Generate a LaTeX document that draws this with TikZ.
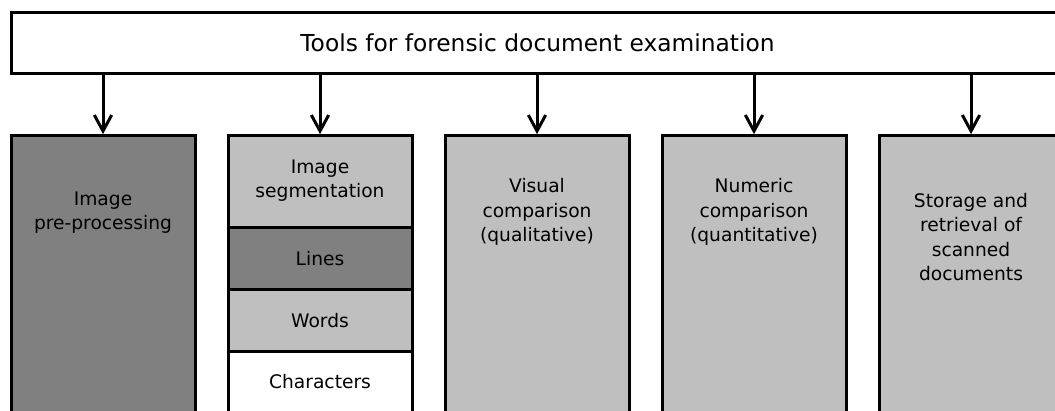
\documentclass[tikz,border=0pt]{standalone}
\usepackage{fontspec}
\setmainfont{DejaVu Sans}
\usetikzlibrary{arrows.meta}
\definecolor{darkfill}{HTML}{808080}
\definecolor{lightfill}{HTML}{BFBFBF}
\begin{document}
\begin{tikzpicture}[x=0.75pt,y=-0.75pt,
  boxline/.style={draw=black,line width=2.25pt,rectangle,inner sep=0pt,outer sep=0pt},
  colbox/.style={boxline,anchor=north,minimum width=138pt},
  lbl/.style={align=center,inner sep=0pt,font=\fontsize{14}{18.4}\selectfont},
  arr/.style={-{Straight Barb[length=12pt,width=13pt,line width=2.25pt]},line width=2.25pt,shorten >=1pt}]
\useasboundingbox (0,0) rectangle (1055,410);
\clip (0,0) rectangle (1055,410);
\node[boxline,fill=white,minimum width=789.75pt,minimum height=45.75pt] (top) at (537.5,43) {};
\node[lbl,font=\fontsize{17.5}{21}\selectfont] (toptxt) at (537.5,43) {Tools for forensic document examination};
% columns
\node[colbox,fill=darkfill,minimum height=225pt] (b1) at (103,135.5) {};
\node[colbox,fill=lightfill,minimum height=69pt] (seg) at (320,135.5) {};
\node[colbox,fill=darkfill,minimum height=46.5pt] (lines) at (320,227.5) {};
\node[colbox,fill=lightfill,minimum height=46.5pt] (words) at (320,289.5) {};
\node[colbox,fill=white,minimum height=120pt] (chars) at (320,351.5) {};
\node[colbox,fill=lightfill,minimum height=225pt] (b3) at (537,135.5) {};
\node[colbox,fill=lightfill,minimum height=225pt] (b4) at (754,135.5) {};
\node[colbox,fill=lightfill,minimum height=225pt] (b5) at (971,135.5) {};
% labels
\node[lbl] (t1) at (103,212.5) {Image\\pre-processing};
\node[lbl] (t2) at (320,180.5) {Image\\segmentation};
\node[lbl] (t2a) at (320,258.5) {Lines};
\node[lbl] (t2b) at (320,320.5) {Words};
\node[lbl] (t2c) at (320,382) {Characters};
\node[lbl] (t3) at (537,212) {Visual\\comparison\\(qualitative)};
\node[lbl] (t4) at (754,212) {Numeric\\comparison\\(quantitative)};
\node[lbl] (t5) at (971,237) {Storage and\\retrieval of\\scanned\\documents};
% arrows
\foreach \b in {b1,seg,b3,b4,b5}{
  \draw[arr] (top.south -| \b.north) -- (\b.north);
}
\end{tikzpicture}
\end{document}
